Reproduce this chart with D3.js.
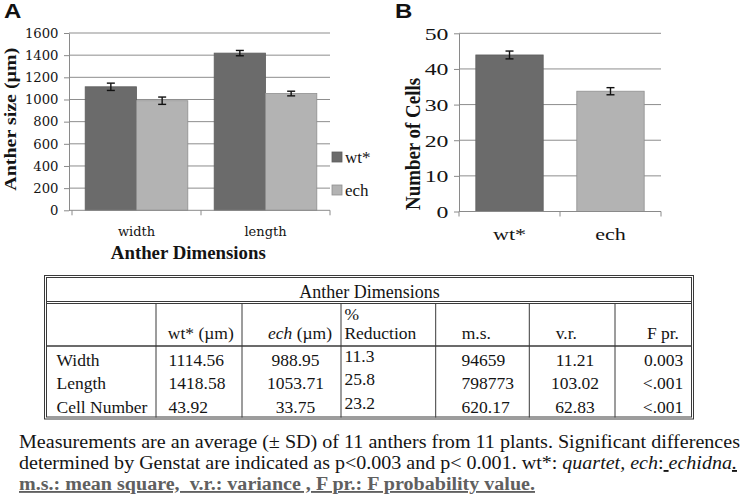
<!DOCTYPE html>
<html><head><meta charset="utf-8">
<script src="https://cdn.jsdelivr.net/npm/d3@7"></script>
<style>html,body{margin:0;padding:0;background:#fff;} svg{display:block;}</style>
</head><body>
<svg id="fig" width="742" height="500"></svg>
<script>
// ---------- data ----------
const dimCategories = ["width", "length"];
const seriesNames = ["wt*", "ech"];
const wtSize = [1114.56, 1418.58];
const echSize = [988.95, 1053.71];
const wtSizeSD = [33, 24];
const echSizeSD = [33, 21];
const sizeTicks = [0, 200, 400, 600, 800, 1000, 1200, 1400, 1600];

const cellCategories = ["wt*", "ech"];
const cellCounts = [43.92, 33.75];
const cellSD = [1.1, 1.0];
const cellTicks = [0, 10, 20, 30, 40, 50];

const tableTitle = "Anther Dimensions";
const rowLabels = ["Width", "Length", "Cell Number"];
const wtCol = ["1114.56", "1418.58", "43.92"];
const echCol = ["988.95", "1053.71", "33.75"];
const reductionCol = ["11.3", "25.8", "23.2"];
const msCol = ["94659", "798773", "620.17"];
const vrCol = ["11.21", "103.02", "62.83"];
const fprCol = ["0.003", "<.001", "<.001"];

// ---------- styles ----------
const svg = d3.select("#fig");
const SERIF = "'Liberation Serif','Times New Roman',serif";
const SERIF2 = "'DejaVu Serif',serif";
const SANS = "'Liberation Sans',Arial,sans-serif";
const fillC = {"wt*": "#6b6b6b", "ech": "#b3b3b3"};
const strokeC = {"wt*": "#5e5e5e", "ech": "#8f8f8f"};
const gridC = "#8d8d8d";
const axisC = "#8a8a8a";
const ink = "#141414";

function label(g, x, y, s, o = {}) {
  const t = g.append("text")
    .attr("transform", `translate(${x},${y})` + (o.sx ? ` scale(${o.sx},1)` : "") + (o.rot ? ` rotate(${o.rot})` : ""))
    .attr("font-family", o.font || SERIF).attr("font-size", o.size || 14)
    .attr("font-weight", o.weight || "normal").attr("text-anchor", o.anchor || "start")
    .attr("fill", o.fill || ink).text(s);
  if (o.len) t.attr("textLength", o.len).attr("lengthAdjust", "spacingAndGlyphs");
  if (o.dy) t.attr("dy", o.dy);
  return t;
}

// ---------- Panel A ----------
const A = svg.append("g");
const xA = d3.scaleBand().domain(dimCategories).range([72, 330]);
const xAin = d3.scaleBand().domain(seriesNames).range([0, xA.bandwidth()]).paddingOuter(0.257);
const yA = d3.scaleLinear().domain([0, 1600]).range([210.3, 33]);

A.selectAll("line.grid").data(sizeTicks.slice(1)).join("line").attr("class", "grid")
  .attr("x1", 69).attr("x2", 330).attr("y1", d => yA(d)).attr("y2", d => yA(d))
  .attr("stroke", gridC).attr("stroke-width", 1);

const gAy = A.append("g").attr("transform", "translate(69,0)")
  .call(d3.axisLeft(yA).tickValues(sizeTicks).tickFormat(d3.format("d")).tickSize(5).tickSizeOuter(0));
gAy.select(".domain").attr("stroke", axisC);
gAy.selectAll(".tick line").attr("stroke", axisC);
gAy.selectAll(".tick text").attr("x", null).attr("dy", "0.36em")
  .attr("font-family", SERIF2).attr("font-size", 12).attr("fill", ink)
  .attr("transform", "translate(-10.5,0) scale(1.1,1)");

const sizeRows = dimCategories.map((c, i) => [
  {cat: c, s: "wt*", v: wtSize[i], sd: wtSizeSD[i]},
  {cat: c, s: "ech", v: echSize[i], sd: echSizeSD[i]}
]).flat();

A.selectAll("rect.bar").data(sizeRows).join("rect").attr("class", "bar")
  .attr("x", d => xA(d.cat) + xAin(d.s)).attr("width", xAin.bandwidth())
  .attr("y", d => yA(d.v)).attr("height", d => yA(0) - yA(d.v))
  .attr("fill", d => fillC[d.s]).attr("stroke", d => strokeC[d.s]).attr("stroke-width", 0.8);

function errorBars(g, rows, xf, yf, cap) {
  const eb = g.selectAll("g.err").data(rows).join("g").attr("class", "err");
  eb.append("line").attr("x1", xf).attr("x2", xf)
    .attr("y1", d => yf(d.v - d.sd)).attr("y2", d => yf(d.v + d.sd));
  eb.append("line").attr("x1", d => xf(d) - cap).attr("x2", d => xf(d) + cap)
    .attr("y1", d => yf(d.v + d.sd)).attr("y2", d => yf(d.v + d.sd));
  eb.append("line").attr("x1", d => xf(d) - cap).attr("x2", d => xf(d) + cap)
    .attr("y1", d => yf(d.v - d.sd)).attr("y2", d => yf(d.v - d.sd));
  eb.selectAll("line").attr("stroke", "#111").attr("stroke-width", 1.4);
}
errorBars(A, sizeRows, d => xA(d.cat) + xAin(d.s) + xAin.bandwidth() / 2, yA, 4);

// x axis A
const gAx = A.append("g").attr("transform", `translate(0,${yA(0)})`)
  .call(d3.axisBottom(xA).tickSize(0).tickPadding(0));
gAx.select(".domain").remove();
gAx.append("line").attr("x1", 69).attr("x2", 330).attr("y1", 0).attr("y2", 0).attr("stroke", axisC);
gAx.selectAll("line.bt").data([...dimCategories.map(c => xA(c)), xA.range()[1]]).join("line").attr("class", "bt")
  .attr("x1", d => d).attr("x2", d => d).attr("y1", 0).attr("y2", 5).attr("stroke", axisC);
gAx.selectAll(".tick text").attr("y", null).attr("dy", null)
  .attr("font-family", SERIF2).attr("font-size", 13).attr("fill", ink)
  .attr("transform", `translate(0,${235.7 - yA(0)})`);

label(A, 4, 18.3, "A", {font: SANS, size: 20, weight: "bold", sx: 1.2, fill: "#111"});
label(A, 15.5, 119.2, "Anther size (µm)", {size: 17, weight: "bold", anchor: "middle", rot: -90, len: 143});
label(A, 188.3, 259.3, "Anther Dimensions", {size: 18, weight: "bold", anchor: "middle", len: 155});

// legend A
const legY = {"wt*": 157, "ech": 190};
const leg = A.selectAll("g.leg").data(seriesNames).join("g").attr("class", "leg");
leg.append("rect").attr("x", 332).attr("y", d => legY[d] - 5).attr("width", 10).attr("height", 10)
  .attr("fill", d => fillC[d]).attr("stroke", d => strokeC[d]).attr("stroke-width", 0.8);
leg.append("text").attr("x", 345).attr("y", d => legY[d]).attr("dy", "0.33em")
  .attr("font-family", SERIF).attr("font-size", 17).attr("fill", ink).text(d => d);

// ---------- Panel B ----------
const B = svg.append("g");
const xB = d3.scaleBand().domain(cellCategories).range([459, 661]).paddingInner(0.333).paddingOuter(0.1667);
const yB = d3.scaleLinear().domain([0, 50]).range([211.5, 33.3]);

B.selectAll("line.grid").data(cellTicks.slice(1)).join("line").attr("class", "grid")
  .attr("x1", 459).attr("x2", 661).attr("y1", d => yB(d)).attr("y2", d => yB(d))
  .attr("stroke", gridC).attr("stroke-width", 1);

const gBy = B.append("g").attr("transform", "translate(459,0)")
  .call(d3.axisLeft(yB).tickValues(cellTicks).tickFormat(d3.format("d")).tickSize(5).tickSizeOuter(0));
gBy.select(".domain").attr("stroke", axisC);
gBy.selectAll(".tick line").attr("stroke", axisC);
gBy.selectAll(".tick text").attr("x", null).attr("dy", "0.34em")
  .attr("font-family", SERIF).attr("font-size", 17).attr("fill", ink)
  .attr("transform", "translate(-10.5,0) scale(1.4,1)");

const cellRows = cellCategories.map((c, i) => ({cat: c, s: c, v: cellCounts[i], sd: cellSD[i]}));
B.selectAll("rect.bar").data(cellRows).join("rect").attr("class", "bar")
  .attr("x", d => xB(d.cat)).attr("width", xB.bandwidth())
  .attr("y", d => yB(d.v)).attr("height", d => yB(0) - yB(d.v))
  .attr("fill", d => fillC[d.s]).attr("stroke", d => strokeC[d.s]).attr("stroke-width", 0.8);
errorBars(B, cellRows, d => xB(d.cat) + xB.bandwidth() / 2, yB, 4);

const gBx = B.append("g").attr("transform", `translate(0,${yB(0)})`)
  .call(d3.axisBottom(xB).tickSize(0).tickPadding(0));
gBx.select(".domain").remove();
gBx.append("line").attr("x1", 459).attr("x2", 661).attr("y1", 0).attr("y2", 0).attr("stroke", axisC);
const bBounds = [xB.range()[0], (xB(cellCategories[0]) + xB.bandwidth() + xB(cellCategories[1])) / 2, xB.range()[1]];
gBx.selectAll("line.bt").data(bBounds).join("line").attr("class", "bt")
  .attr("x1", d => d).attr("x2", d => d).attr("y1", 0).attr("y2", 5).attr("stroke", axisC);
gBx.selectAll(".tick text").attr("y", null).attr("dy", null)
  .attr("font-family", SERIF).attr("font-size", 17).attr("fill", ink)
  .attr("transform", `translate(0,${240 - yB(0)}) scale(1.3,1)`);

label(B, 395, 18.3, "B", {font: SANS, size: 20, weight: "bold", sx: 1.2, fill: "#111"});
label(B, 420, 144, "Number of Cells", {size: 18, weight: "bold", anchor: "middle", rot: -90, len: 132, sx: 1.2});

// ---------- Table ----------
const T = svg.append("g");
const lineC = "#3a3a3a";
const TF = 17.5;
const colX = [46.5, 156, 242, 341, 435.7, 529.3, 615, 691.5];
T.append("rect").attr("x", 44.5).attr("y", 275.5).attr("width", 649).attr("height", 143.5)
  .attr("fill", "none").attr("stroke", lineC).attr("stroke-width", 1);
T.append("rect").attr("x", 46.5).attr("y", 277.5).attr("width", 645).attr("height", 139.5)
  .attr("fill", "none").attr("stroke", lineC).attr("stroke-width", 1);
[301.5, 303.5].forEach(y => T.append("line").attr("x1", 46.5).attr("x2", 691.5).attr("y1", y).attr("y2", y).attr("stroke", lineC));
T.append("line").attr("x1", 46.5).attr("x2", 691.5).attr("y1", 346).attr("y2", 346).attr("stroke", lineC).attr("stroke-width", 1.3);
T.selectAll("line.col").data(colX.slice(1, -1)).join("line").attr("class", "col")
  .attr("x1", d => d).attr("x2", d => d).attr("y1", 303.5).attr("y2", 417.5).attr("stroke", lineC);

label(T, 369.5, 298.3, tableTitle, {size: 18, anchor: "middle"});

// header
label(T, 167.8, 338.5, "wt* (µm)", {size: TF});
const echH = label(T, 332, 338.5, "", {size: TF, anchor: "end"});
echH.append("tspan").attr("font-style", "italic").text("ech");
echH.append("tspan").text(" (µm)");
label(T, 344.4, 320, "%", {size: TF});
label(T, 344.4, 338.5, "Reduction", {size: TF});
label(T, 461.7, 338.5, "m.s.", {size: TF});
label(T, 555.7, 338.5, "v.r.", {size: TF});
label(T, 679, 338.5, "F pr.", {size: TF, anchor: "end"});

const rowY = [365.6, 389, 413.3];
const tableCols = [
  {values: rowLabels, x: 56.5, anchor: "start", dy: 0},
  {values: wtCol, x: 168.5, anchor: "start", dy: 0},
  {values: echCol, x: 295.5, anchor: "middle", dy: 0},
  {values: reductionCol, x: 344.4, anchor: "start", dy: -4},
  {values: msCol, x: 461.5, anchor: "start", dy: 0},
  {values: vrCol, x: 575, anchor: "middle", dy: 0},
  {values: fprCol, x: 683.3, anchor: "end", dy: 0}
];
tableCols.forEach(col => {
  col.values.forEach((v, i) => label(T, col.x, rowY[i] + col.dy, v, {size: TF, anchor: col.anchor}));
});

// ---------- Caption ----------
const C = svg.append("g");
label(C, 19, 448, "Measurements are an average (± SD) of 11 anthers from 11 plants. Significant differences",
  {size: 18.6, len: 721});
const l2 = label(C, 19, 469, "", {size: 18.6, len: 718});
l2.append("tspan").text("determined by Genstat are indicated as p<0.003 and p< 0.001. wt*: ");
l2.append("tspan").attr("font-style", "italic").text("quartet, ech");
l2.append("tspan").text(":");
l2.append("tspan").attr("text-decoration", "underline").text("\u00a0");
l2.append("tspan").attr("font-style", "italic").text("echidna");
l2.append("tspan").attr("font-style", "italic").attr("text-decoration", "underline").text(".");
label(C, 19, 490, "m.s.: mean square,\u00a0 v.r.: variance , F pr.: F probability value.",
  {size: 18.6, weight: "bold", len: 516, fill: "#606060"}).attr("text-decoration", "underline");
</script>
</body></html>
